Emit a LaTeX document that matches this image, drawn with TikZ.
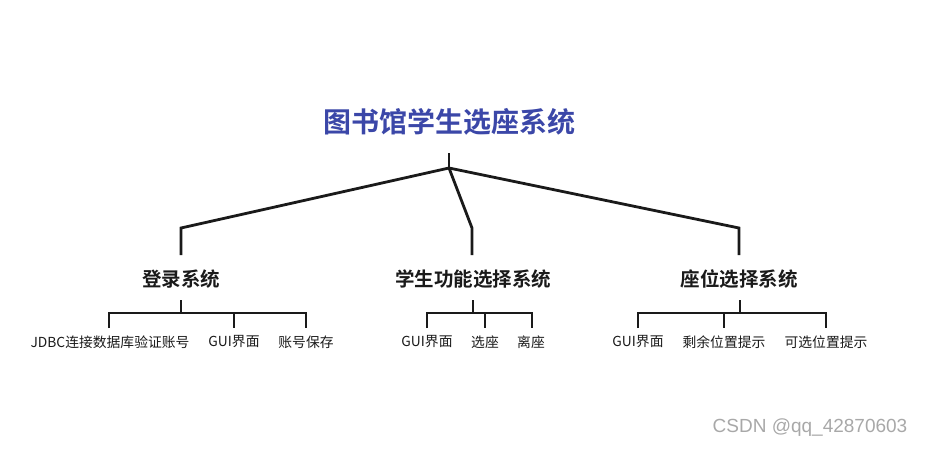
\documentclass[tikz,border=0pt]{standalone}
\usepackage{fontspec}
\setmainfont{Noto Sans CJK SC}[BoldFont={Noto Sans CJK SC Bold}]
\newfontfamily\wmfont{Liberation Sans}
\definecolor{titleblue}{HTML}{3B47A8}
\definecolor{ink}{HTML}{1A1A1A}
\definecolor{wmgray}{HTML}{A8A8A8}
\begin{document}
\begin{tikzpicture}[x=1pt,y=-1pt,
  conn/.style={draw=ink,line width=2.8pt,line join=miter},
  titlenode/.style={inner sep=0pt,text=titleblue,font=\fontsize{28}{30}\selectfont\bfseries},
  midnode/.style={inner sep=0pt,text=ink,font=\fontsize{19.5}{22}\selectfont\bfseries},
  leafnode/.style={inner sep=0pt,text=ink,font=\fontsize{13.8}{16}\selectfont},
  wmnode/.style={inner sep=0pt,text=wmgray,font=\fontsize{19}{21}\wmfont}]
\useasboundingbox (0,0) rectangle (925,448);
% title
\node[titlenode] (title) at (449,122) {图书馆学生选座系统};
\coordinate (t0) at (449,153);
\coordinate (j0) at (449,168);
% second level
\node[midnode] (m1) at (181,279) {登录系统};
\node[midnode] (m2) at (473,279) {学生功能选择系统};
\node[midnode] (m3) at (739,279) {座位选择系统};
\coordinate (k1) at (181,228); \coordinate (s1) at (181,255);
\coordinate (k2) at (472,228); \coordinate (s2) at (472,255);
\coordinate (k3) at (739,228); \coordinate (s3) at (739,255);
\draw[conn] (t0) -- (j0);
\draw[conn] (j0) -- (k1) -- (s1);
\draw[conn] (j0) -- (k2) -- (s2);
\draw[conn] (j0) -- (k3) -- (s3);
% leaves group 1
\node[leafnode] (l11) at (110,342) {JDBC连接数据库验证账号};
\node[leafnode] (l12) at (234,342) {GUI界面};
\node[leafnode] (l13) at (306,342) {账号保存};
\coordinate (u1) at (181,300); \coordinate (h1) at (181,313);
\coordinate (a11) at (109,313); \coordinate (b11) at (109,328);
\coordinate (a12) at (234,313); \coordinate (b12) at (234,328);
\coordinate (a13) at (306,313); \coordinate (b13) at (306,328);
\draw[conn] (u1) -- (h1);
\draw[conn] (b11) -- (a11) -- (a13) -- (b13);
\draw[conn] (a12) -- (b12);
% leaves group 2
\node[leafnode] (l21) at (427,342) {GUI界面};
\node[leafnode] (l22) at (485,342) {选座};
\node[leafnode] (l23) at (531,342) {离座};
\coordinate (u2) at (473,300); \coordinate (h2) at (473,313);
\coordinate (a21) at (427,313); \coordinate (b21) at (427,328);
\coordinate (a22) at (485,313); \coordinate (b22) at (485,328);
\coordinate (a23) at (532,313); \coordinate (b23) at (532,328);
\draw[conn] (u2) -- (h2);
\draw[conn] (b21) -- (a21) -- (a23) -- (b23);
\draw[conn] (a22) -- (b22);
% leaves group 3
\node[leafnode] (l31) at (638,342) {GUI界面};
\node[leafnode] (l32) at (724,342) {剩余位置提示};
\node[leafnode] (l33) at (826,342) {可选位置提示};
\coordinate (u3) at (740,300); \coordinate (h3) at (740,313);
\coordinate (a31) at (638,313); \coordinate (b31) at (638,328);
\coordinate (a32) at (724,313); \coordinate (b32) at (724,328);
\coordinate (a33) at (826,313); \coordinate (b33) at (826,328);
\draw[conn] (u3) -- (h3);
\draw[conn] (b31) -- (a31) -- (a33) -- (b33);
\draw[conn] (a32) -- (b32);
% watermark
\node[wmnode] (wm) at (810,428) {CSDN @qq\_42870603};
\end{tikzpicture}
\end{document}
